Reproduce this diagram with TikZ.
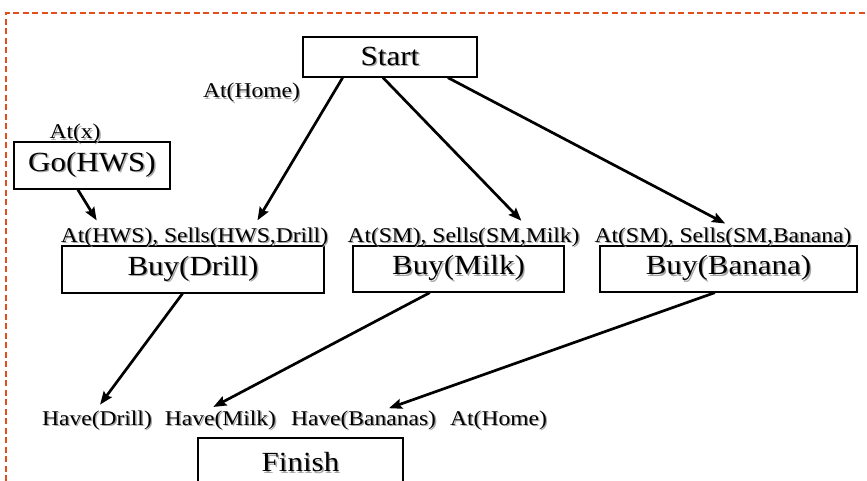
\documentclass[tikz,border=0pt]{standalone}
\usepackage{fontspec}
\setmainfont{Liberation Serif}[FakeStretch=1.12]
\usetikzlibrary{arrows.meta,calc}

\definecolor{frameorange}{RGB}{226,78,28}
% text with a soft grey drop shadow behind it
\newcommand{\shtxt}[1]{\makebox[0pt][l]{\kern1.4pt\raisebox{-1.4pt}{\textcolor{black!35}{#1}}}#1}

\tikzset{
  actbox/.style={draw, line width=1.3pt, inner sep=0pt, align=center,
                 font=\fontsize{27.7}{30}\selectfont},
  cond/.style={inner sep=0pt, anchor=base, font=\fontsize{21}{24}\selectfont},
  link/.style={line width=2.7pt, -{Stealth[length=13pt,width=10pt,inset=2pt]}},
}

\begin{document}
\begin{tikzpicture}[x=1pt,y=-1pt]
\useasboundingbox (0,0) rectangle (867,481);
\clip (0,0) rectangle (867,481);
\fill[white] (0,0) rectangle (867,481);

% dashed frame along the top and left
\draw[frameorange, line width=1.4pt, dash pattern=on 6pt off 3.5pt]
  (6,481) -- (6,13) -- (867,13);

% actions
\node[actbox, minimum width=174pt, minimum height=40pt] (start) at (390,57) {\shtxt{Start}};
\node[actbox, minimum width=156pt, minimum height=47pt] (go) at (92,165.5) {\shtxt{Go(HWS)}};
\node[actbox, minimum width=262pt, minimum height=47pt] (drill) at (193,269.5) {\shtxt{Buy(Drill)}};
\node[actbox, minimum width=211pt, minimum height=46pt] (milk) at (458.5,269) {\shtxt{Buy(Milk)}};
\node[actbox, minimum width=257pt, minimum height=46pt] (banana) at (728.5,269) {\shtxt{Buy(Banana)}};
\node[actbox, minimum width=205pt, minimum height=50pt] (finish) at (300.5,463) {\shtxt{Finish}};

% conditions
\node[cond] (home0) at (251.5,98) {\shtxt{At(Home)}};
\node[cond] (atx) at (75,139) {\shtxt{At(x)}};
\node[cond] (preD) at (194.5,242) {\shtxt{At(HWS), Sells(HWS,Drill)}};
\node[cond] (preM) at (463.5,242) {\shtxt{At(SM), Sells(SM,Milk)}};
\node[cond] (preB) at (723,242) {\shtxt{At(SM), Sells(SM,Banana)}};
\node[cond] (haveD) at (97,425) {\shtxt{Have(Drill)}};
\node[cond] (haveM) at (220.5,425) {\shtxt{Have(Milk)}};
\node[cond] (haveB) at (363.5,425) {\shtxt{Have(Bananas)}};
\node[cond] (home1) at (498.5,425) {\shtxt{At(Home)}};

% causal links
\draw[link, shorten >=8pt] ($(start.south west)!.23!(start.south east)$) -- ($(preD.north west)!.72!(preD.north east)$);
\draw[link, shorten >=9pt] ($(start.south west)!.46!(start.south east)$) -- ($(preM.north west)!.776!(preM.north east)$);
\draw[link, shorten >=8pt] ($(start.south west)!.83!(start.south east)$) -- ($(preB.north west)!.536!(preB.north east)$);
\draw[link, shorten >=8pt] ($(go.south west)!.41!(go.south east)$) -- ($(preD.north west)!.15!(preD.north east)$);
\draw[link, shorten >=7pt] ($(drill.south west)!.46!(drill.south east)$) -- ($(haveD.north west)!.49!(haveD.north east)$);
\draw[link, shorten >=7pt] ($(milk.south west)!.365!(milk.south east)$) -- ($(haveM.north west)!.38!(haveM.north east)$);
\draw[link, shorten >=6pt] ($(banana.south west)!.447!(banana.south east)$) -- ($(haveB.north west)!.636!(haveB.north east)$);
\end{tikzpicture}
\end{document}
